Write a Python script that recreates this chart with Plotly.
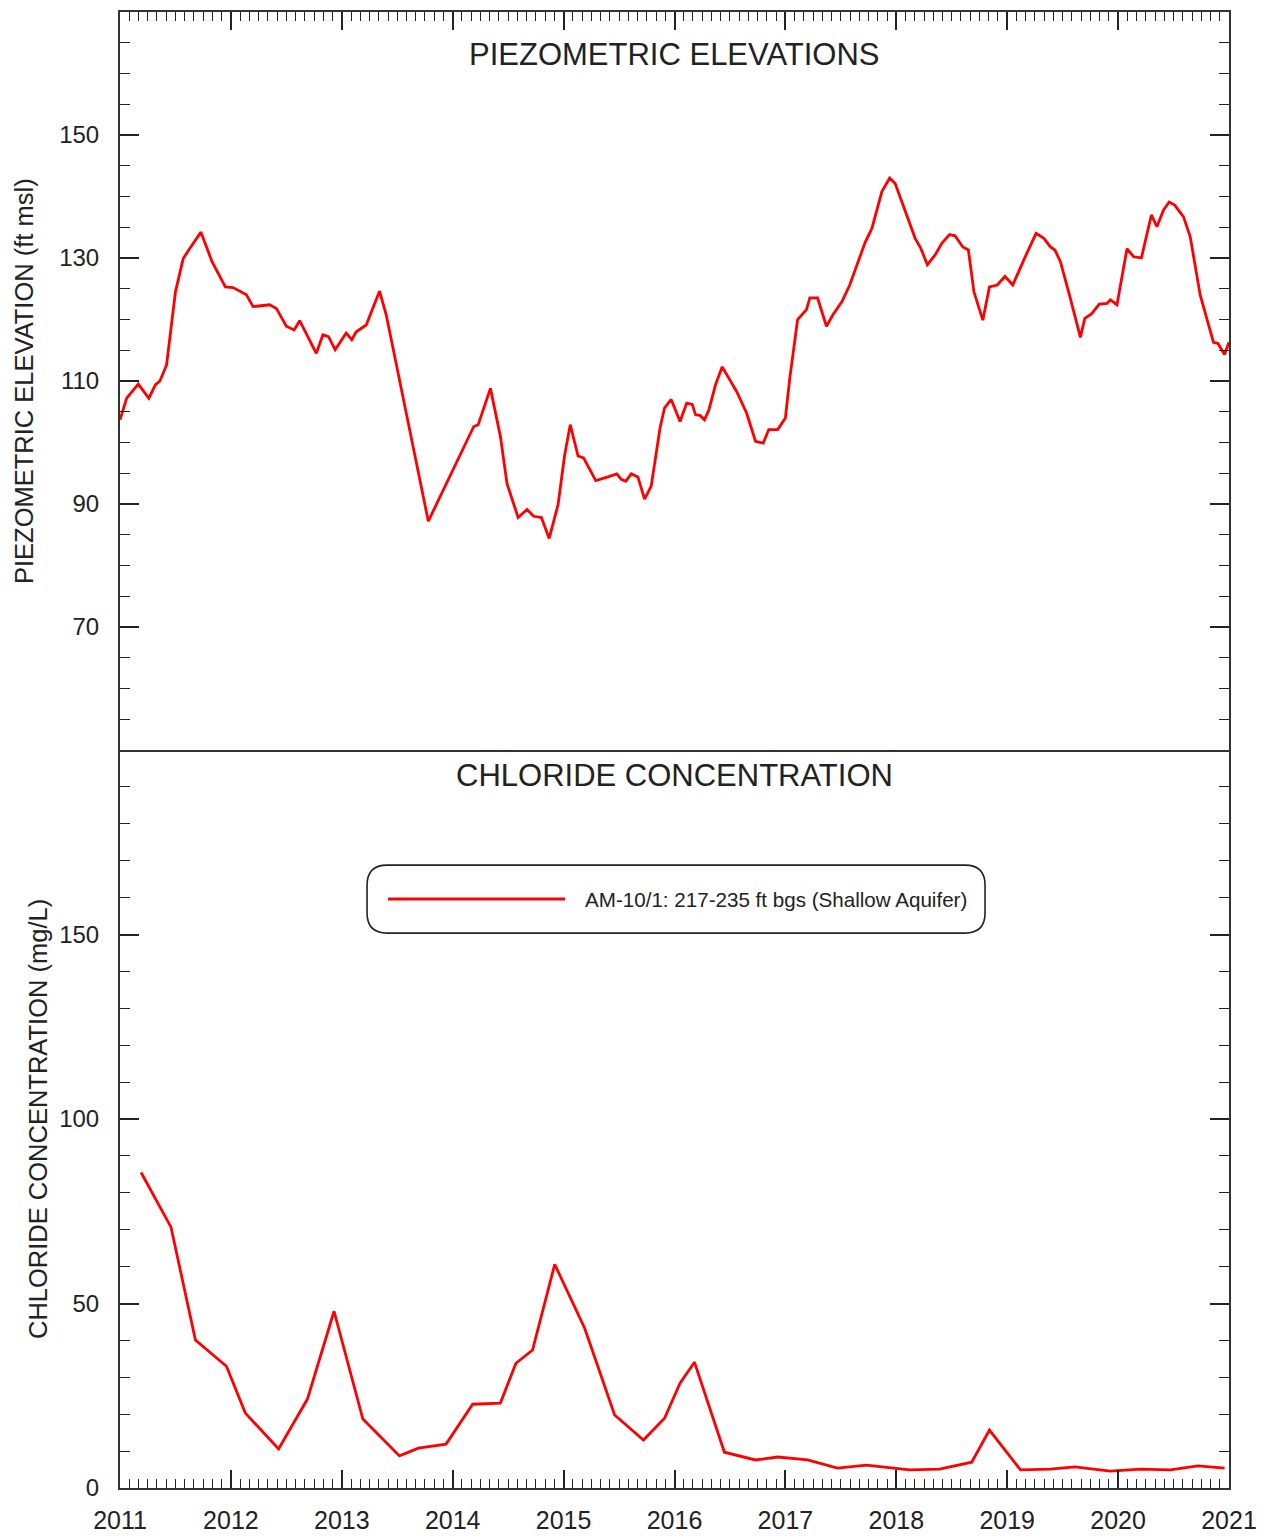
import plotly.graph_objects as go

# ---------------- data ----------------
# decimal year of each reading, piezometric elevation (ft msl)
piezo_year = [2011.00, 2011.06, 2011.165, 2011.26, 2011.32, 2011.36, 2011.42, 2011.50, 2011.57, 2011.63,
              2011.73, 2011.83, 2011.95, 2012.02, 2012.14, 2012.20, 2012.35, 2012.41, 2012.50, 2012.57,
              2012.62, 2012.77, 2012.83, 2012.88, 2012.94, 2013.04, 2013.09, 2013.13, 2013.22, 2013.34,
              2013.40, 2013.78, 2014.19, 2014.23, 2014.34, 2014.43, 2014.49, 2014.59, 2014.67, 2014.73,
              2014.80, 2014.87, 2014.95, 2015.01, 2015.06, 2015.13, 2015.18, 2015.29, 2015.40, 2015.48,
              2015.52, 2015.56, 2015.61, 2015.67, 2015.73, 2015.79, 2015.87, 2015.91, 2015.97, 2016.05,
              2016.11, 2016.16, 2016.19, 2016.23, 2016.27, 2016.31, 2016.37, 2016.43, 2016.56, 2016.65,
              2016.73, 2016.80, 2016.85, 2016.93, 2017.00, 2017.04, 2017.11, 2017.19, 2017.22, 2017.29,
              2017.37, 2017.43, 2017.51, 2017.58, 2017.72, 2017.78, 2017.87, 2017.94, 2017.99, 2018.08,
              2018.17, 2018.22, 2018.28, 2018.35, 2018.41, 2018.48, 2018.53, 2018.60, 2018.65, 2018.70,
              2018.78, 2018.84, 2018.91, 2018.98, 2019.05, 2019.15, 2019.26, 2019.33, 2019.39, 2019.43,
              2019.48, 2019.57, 2019.66, 2019.70, 2019.76, 2019.83, 2019.90, 2019.93, 2019.99, 2020.08,
              2020.14, 2020.21, 2020.30, 2020.35, 2020.41, 2020.46, 2020.51, 2020.59, 2020.65, 2020.74,
              2020.79, 2020.86, 2020.90, 2020.96, 2021.00]
piezo_elev = [103.7, 107.2, 109.5, 107.2, 109.4, 110.0, 112.6, 124.5, 129.9, 131.6,
              134.2, 129.4, 125.3, 125.2, 124.0, 122.1, 122.4, 121.8, 118.9, 118.3,
              119.8, 114.5, 117.5, 117.2, 115.1, 117.8, 116.7, 118.0, 119.1, 124.6,
              120.8, 87.2, 102.6, 102.9, 108.8, 101.0, 93.3, 87.8, 89.1, 88.0,
              87.8, 84.4, 89.9, 98.0, 102.9, 97.8, 97.5, 93.8, 94.4, 94.9,
              94.0, 93.7, 94.9, 94.4, 90.8, 92.9, 102.4, 105.6, 107.0, 103.4,
              106.4, 106.2, 104.5, 104.4, 103.7, 105.3, 109.4, 112.3, 108.3, 104.8,
              100.2, 99.9, 102.1, 102.1, 104.0, 110.5, 120.0, 121.6, 123.5, 123.5,
              118.9, 120.8, 122.9, 125.6, 132.6, 134.8, 140.8, 143.0, 142.1, 137.8,
              133.2, 131.6, 128.9, 130.5, 132.4, 133.8, 133.6, 131.8, 131.3, 124.5,
              119.9, 125.3, 125.6, 127.0, 125.6, 129.7, 134.0, 133.2, 131.8, 131.3,
              129.4, 123.4, 117.1, 120.2, 120.9, 122.5, 122.6, 123.2, 122.4, 131.5,
              130.2, 130.0, 137.0, 135.1, 137.8, 139.1, 138.6, 136.7, 133.5, 124.0,
              120.8, 116.3, 116.1, 114.3, 116.3]

# decimal year of each sample, chloride concentration (mg/L)
cl_year = [2011.19, 2011.46, 2011.68, 2011.96, 2012.13, 2012.43, 2012.69, 2012.93, 2013.19, 2013.52,
           2013.69, 2013.94, 2014.18, 2014.43, 2014.57, 2014.72, 2014.92, 2015.19, 2015.46, 2015.72,
           2015.91, 2016.05, 2016.18, 2016.45, 2016.73, 2016.93, 2017.20, 2017.47, 2017.73, 2018.12,
           2018.39, 2018.68, 2018.84, 2019.12, 2019.39, 2019.61, 2019.93, 2020.20, 2020.47, 2020.72,
           2020.96]
cl_conc = [85.5, 70.7, 40.1, 33.0, 20.3, 10.6, 24.1, 47.9, 18.7, 8.7,
           10.8, 11.9, 22.7, 23.0, 33.8, 37.4, 60.6, 43.3, 19.8, 13.0,
           18.9, 28.4, 34.1, 9.7, 7.6, 8.4, 7.6, 5.4, 6.2, 4.9,
           5.1, 7.0, 15.7, 4.9, 5.1, 5.7, 4.6, 5.1, 4.9, 6.0,
           5.4]

year_ticks = list(range(2011, 2022))
year_labels = [str(y) for y in year_ticks]
elev_ticks = [50, 70, 90, 110, 130, 150, 170]
elev_labels = ["", "70", "90", "110", "130", "150", ""]
cl_ticks = [0, 50, 100, 150, 200]
cl_labels = ["0", "50", "100", "150", ""]

series_name = "AM-10/1: 217-235 ft bgs (Shallow Aquifer)"
top_title = "PIEZOMETRIC ELEVATIONS"
bottom_title = "CHLORIDE CONCENTRATION"
top_ytitle = "PIEZOMETRIC ELEVATION (ft msl)"
bottom_ytitle = "CHLORIDE CONCENTRATION (mg/L)"

# ---------------- figure ----------------
FONT = "Liberation Sans, Arial, sans-serif"
TXT = "#222222"
RED = "#ff0000"

fig = go.Figure()
fig.add_trace(go.Scatter(x=piezo_year, y=piezo_elev, mode="lines",
                         line=dict(color=RED, width=2.8), xaxis="x", yaxis="y",
                         showlegend=False, name="Piezometric elevation"))
fig.add_trace(go.Scatter(x=cl_year, y=cl_conc, mode="lines",
                         line=dict(color=RED, width=2.8), xaxis="x2", yaxis="y2",
                         showlegend=False, name=series_name))

xcommon = dict(range=[2011, 2021], tickmode="array", tickvals=year_ticks, ticktext=year_labels,
               ticks="inside", ticklen=18, tickwidth=1.6, tickcolor="#222",
               showline=True, linecolor="#333", linewidth=2, automargin=False,
               showgrid=False, zeroline=False, fixedrange=True,
               minor=dict(tick0=2011, dtick=1/12, ticks="inside", ticklen=9,
                          tickwidth=1.3, tickcolor="#222", showgrid=False))
ycommon = dict(tickmode="array", ticks="inside", ticklen=19, tickwidth=1.6, tickcolor="#222",
               showline=True, linecolor="#333", linewidth=2, mirror="allticks",
               showgrid=False, zeroline=False, ticklabelstandoff=14, automargin=False,
               fixedrange=True, tickfont=dict(family=FONT, size=24, color=TXT))

fig.update_layout(
    width=1267, height=1536,
    margin=dict(l=120, r=38, t=12, b=48, autoexpand=False),
    paper_bgcolor="white", plot_bgcolor="white",
    font=dict(family=FONT, color=TXT),
    showlegend=False,
    xaxis=dict(**xcommon, anchor="y", side="top", mirror=True, showticklabels=False),
    xaxis2=dict(**xcommon, anchor="y2", side="bottom", mirror=False, showticklabels=True,
                ticklabelstandoff=9, tickfont=dict(family=FONT, size=25, color=TXT)),
    yaxis=dict(**ycommon, domain=[0.5, 1], range=[50, 170], anchor="x",
               tickvals=elev_ticks, ticktext=elev_labels,
               minor=dict(tick0=50, dtick=5, ticks="inside", ticklen=10, tickwidth=1.3,
                          tickcolor="#222", showgrid=False)),
    yaxis2=dict(**ycommon, domain=[0, 0.5], range=[0, 200], anchor="x2",
                tickvals=cl_ticks, ticktext=cl_labels,
                minor=dict(tick0=0, dtick=10, ticks="inside", ticklen=10, tickwidth=1.3,
                           tickcolor="#222", showgrid=False)),
)

# panel titles and axis titles
fig.add_annotation(text=top_title, xref="paper", yref="paper", x=0.5, y=0.9715,
                   xanchor="center", yanchor="middle", showarrow=False,
                   font=dict(family=FONT, size=31, color=TXT))
fig.add_annotation(text=bottom_title, xref="paper", yref="paper", x=0.5, y=0.483,
                   xanchor="center", yanchor="middle", showarrow=False,
                   font=dict(family=FONT, size=31, color=TXT))
fig.add_annotation(text=top_ytitle, xref="paper", yref="paper", x=0, y=0.75, xshift=-96,
                   xanchor="center", yanchor="middle", textangle=-90, showarrow=False,
                   font=dict(family=FONT, size=25.5, color=TXT))
fig.add_annotation(text=bottom_ytitle, xref="paper", yref="paper", x=0, y=0.25, xshift=-82,
                   xanchor="center", yanchor="middle", textangle=-90, showarrow=False,
                   font=dict(family=FONT, size=25.5, color=TXT))

# legend box (rounded) with long line sample and label
lx, ly = 0.5014, 0.399
hw, hh, r = 309, 34, 20
path = (f"M{-hw + r},{-hh} L{hw - r},{-hh} Q{hw},{-hh} {hw},{-hh + r} "
        f"L{hw},{hh - r} Q{hw},{hh} {hw - r},{hh} L{-hw + r},{hh} "
        f"Q{-hw},{hh} {-hw},{hh - r} L{-hw},{-hh + r} Q{-hw},{-hh} {-hw + r},{-hh} Z")
fig.add_shape(type="path", xref="paper", yref="paper", xsizemode="pixel", ysizemode="pixel",
              xanchor=lx, yanchor=ly, path=path, line=dict(color="#222", width=1.6),
              fillcolor="white", layer="above")
fig.add_shape(type="line", xref="paper", yref="paper", x0=0.2417, x1=0.4013, y0=ly, y1=ly,
              line=dict(color=RED, width=3), layer="above")
fig.add_annotation(text=series_name, xref="paper", yref="paper", x=0.4175, y=ly,
                   xanchor="left", yanchor="middle", showarrow=False,
                   font=dict(family=FONT, size=20.6, color=TXT))

fig.write_html("out.html", config={"displayModeBar": False},
               post_script="document.body.style.margin='0';document.documentElement.style.margin='0';")
